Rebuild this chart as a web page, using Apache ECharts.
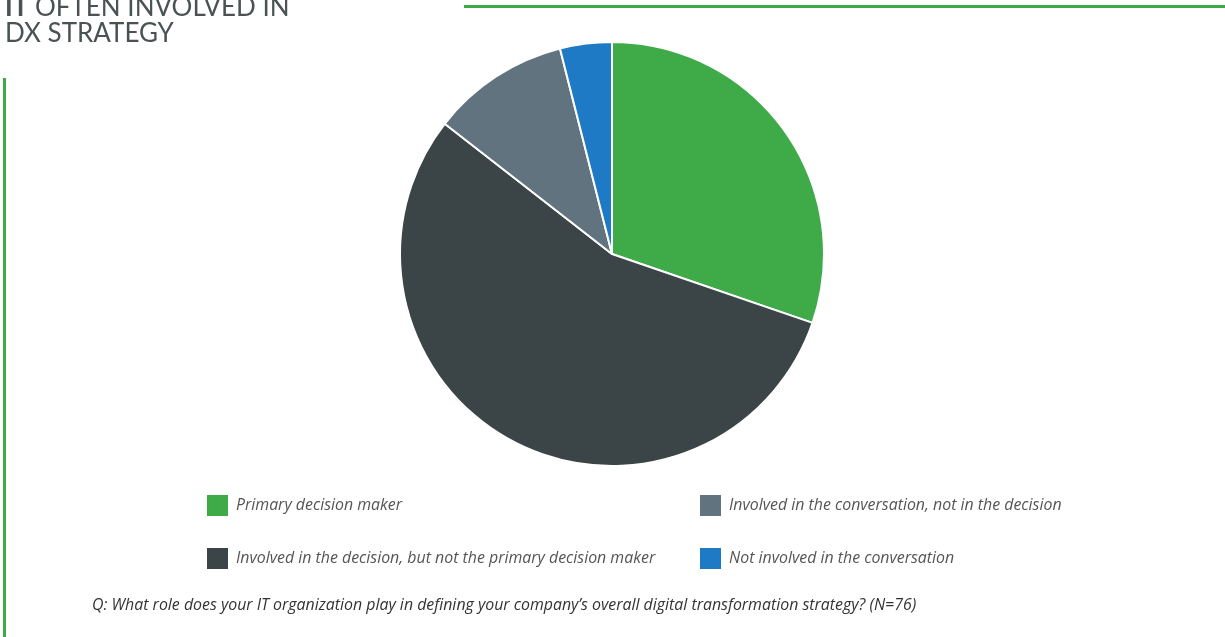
<!DOCTYPE html>
<html>
<head>
<meta charset="utf-8">
<script src="https://cdn.jsdelivr.net/npm/echarts@6/dist/echarts.min.js"></script>
<style>
  html, body { margin: 0; padding: 0; background: #fff; }
  #chart { width: 1225px; height: 637px; }
</style>
</head>
<body>
<div id="chart"></div>
<script>
// role of IT in DX strategy, N=76
const categories = [
  'Primary decision maker',
  'Involved in the decision, but not the primary decision maker',
  'Involved in the conversation, not in the decision',
  'Not involved in the conversation'
]
const counts = [23, 42, 8, 3]
const colors = ['#3fab48', '#3b4446', '#60737e', '#1e7ac4']

const chart = echarts.init(document.getElementById('chart'))

const legendText = {
  fontFamily: 'Open Sans',
  fontStyle: 'italic',
  fontSize: 15.9,
  color: '#555',
  padding: [0, 0, 0, 2]
}

chart.setOption({
  animation: false,
  color: colors,
  title: {
    text: '{b|IT} OFTEN INVOLVED IN\nDX STRATEGY',
    left: 5,
    top: -5,
    padding: 0,
    textStyle: {
      fontFamily: 'Lato',
      fontWeight: 'normal',
      fontSize: 26,
      lineHeight: 26,
      color: '#4a5254',
      rich: {
        b: { fontFamily: 'Lato', fontSize: 26, fontWeight: 'bold', color: '#4a5254' }
      }
    }
  },
  legend: [
    {
      orient: 'vertical',
      left: 205,
      top: 493,
      padding: 0,
      itemWidth: 23,
      itemHeight: 23,
      itemGap: 28,
      icon: 'rect',
      selectedMode: false,
      data: [categories[0], categories[1]],
      textStyle: legendText
    },
    {
      orient: 'vertical',
      left: 698,
      top: 493,
      padding: 0,
      itemWidth: 23,
      itemHeight: 23,
      itemGap: 28,
      icon: 'rect',
      selectedMode: false,
      data: [categories[2], categories[3]],
      textStyle: legendText
    }
  ],
  graphic: [
    { type: 'rect', shape: { x: 464, y: 5, width: 761, height: 3 }, style: { fill: '#3fab48' } },
    { type: 'rect', shape: { x: 3, y: 78, width: 3, height: 559 }, style: { fill: '#3fab48' } },
    {
      type: 'text',
      left: 92,
      top: 597,
      style: {
        text: 'Q: What role does your IT organization play in defining your company\u2019s overall digital transformation strategy? (N=76)',
        fontFamily: 'Open Sans',
        fontStyle: 'italic',
        fontSize: 15.9,
        fill: '#333'
      }
    }
  ],
  series: [{
    type: 'pie',
    center: [612, 254],
    radius: 212,
    startAngle: 90,
    clockwise: true,
    label: { show: false },
    labelLine: { show: false },
    itemStyle: { borderColor: '#fff', borderWidth: 2 },
    data: categories.map((name, i) => ({ name: name, value: counts[i] }))
  }]
})
</script>
</body>
</html>
